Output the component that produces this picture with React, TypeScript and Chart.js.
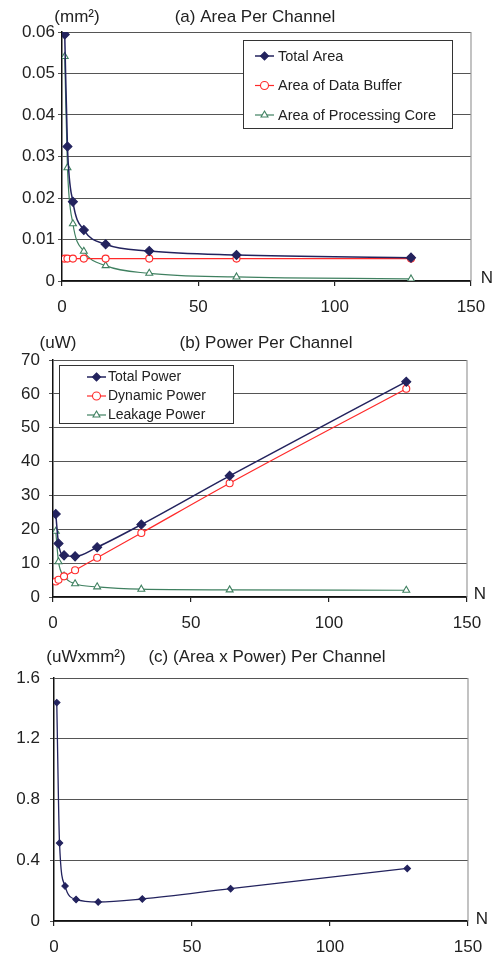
import React, { useEffect, useRef } from 'react';
import { Chart, registerables } from 'chart.js';

Chart.register(...registerables);

const FONT = '"Liberation Sans", Arial, sans-serif';

// ---------- data ----------
const N_VALUES = [1, 2, 4, 8, 16, 32, 64, 128];
const X_TICKS = [0, 50, 100, 150];

const totalArea = [0.0594, 0.0324, 0.0191, 0.0123, 0.00885, 0.00724, 0.00627, 0.00563];
const bufferArea = [0.0054, 0.0054, 0.0054, 0.0054, 0.0054, 0.0054, 0.0054, 0.0054];
const coreArea = [0.0541, 0.0273, 0.0138, 0.00716, 0.0037, 0.00185, 0.00097, 0.0005];
const AREA_TICKS = [0, 0.01, 0.02, 0.03, 0.04, 0.05, 0.06];

const totalPower = [24.5, 15.8, 12.3, 12.0, 14.7, 21.4, 35.8, 63.6];
const dynamicPower = [4.6, 5.1, 6.1, 7.9, 11.6, 18.9, 33.6, 61.5];
const leakagePower = [19.4, 10.4, 6.2, 3.9, 3.0, 2.3, 2.1, 2.0];
const POWER_TICKS = [0, 10, 20, 30, 40, 50, 60, 70];

const areaPower = [1.438, 0.513, 0.23, 0.142, 0.125, 0.145, 0.213, 0.346];
const AP_TICKS = [0, 0.4, 0.8, 1.2, 1.6];

const NAVY = '#23235e';
const RED = '#ff2a2a';
const GREEN = '#3f8060';

const pts = (ys: number[]) => N_VALUES.map((x, i) => ({ x, y: ys[i] }));

function drawMarker(ctx: CanvasRenderingContext2D, style: string, x: number, y: number, r: number, fill: string, stroke: string) {
  ctx.beginPath();
  if (style === 'rectRot') {
    ctx.moveTo(x, y - r);
    ctx.lineTo(x + r, y);
    ctx.lineTo(x, y + r);
    ctx.lineTo(x - r, y);
    ctx.closePath();
  } else if (style === 'triangle') {
    ctx.moveTo(x, y - r);
    ctx.lineTo(x + r * 0.866, y + r * 0.5);
    ctx.lineTo(x - r * 0.866, y + r * 0.5);
    ctx.closePath();
  } else {
    ctx.arc(x, y, r, 0, Math.PI * 2);
  }
  ctx.fillStyle = fill;
  ctx.fill();
  ctx.lineWidth = 1.1;
  ctx.strokeStyle = stroke;
  ctx.stroke();
}

const decorPlugin = {
  id: 'decor',
  beforeDatasetsDraw(chart: any) {
    const { ctx, chartArea: a } = chart;
    ctx.save();
    ctx.strokeStyle = '#9a9a9a';
    ctx.lineWidth = 1.2;
    ctx.beginPath();
    ctx.moveTo(a.right, a.top);
    ctx.lineTo(a.right, a.bottom);
    ctx.stroke();
    ctx.restore();
  },
  afterDraw(chart: any, _a: any, o: any) {
    const { ctx, chartArea: a } = chart;
    ctx.save();
    ctx.fillStyle = '#222';
    ctx.textBaseline = 'middle';
    ctx.textAlign = 'center';
    ctx.font = `17px ${FONT}`;
    ctx.fillText(o.title, o.titleX, o.titleY);
    ctx.fillText(o.unit, o.unitX, o.titleY);
    ctx.fillText('N', a.right + o.nDx, a.bottom + o.nDy);
    const L = o.legend;
    if (L) {
      ctx.fillStyle = '#fff';
      ctx.fillRect(L.x, L.y, L.w, L.h);
      ctx.strokeStyle = '#333';
      ctx.lineWidth = 1;
      ctx.strokeRect(L.x + 0.5, L.y + 0.5, L.w, L.h);
      chart.data.datasets.forEach((ds: any, i: number) => {
        const y = L.y0 + i * L.gap;
        ctx.strokeStyle = ds.borderColor;
        ctx.lineWidth = ds.borderWidth;
        ctx.beginPath();
        ctx.moveTo(L.lx0, y);
        ctx.lineTo(L.lx1, y);
        ctx.stroke();
        drawMarker(ctx, ds.pointStyle, (L.lx0 + L.lx1) / 2, y, L.mr, ds.pointBackgroundColor, ds.pointBorderColor);
        ctx.fillStyle = '#222';
        ctx.textAlign = 'left';
        ctx.font = `${L.size}px ${FONT}`;
        ctx.fillText(ds.label, L.tx, y + 0.5);
      });
    }
    ctx.restore();
  },
};

function xScale(height: number) {
  return {
    type: 'linear',
    min: 0,
    max: 150,
    afterBuildTicks: (s: any) => {
      s.ticks = X_TICKS.map((v) => ({ value: v }));
    },
    afterFit: (s: any) => {
      s.height = height;
      s.paddingLeft = 0;
      s.paddingRight = 0;
    },
    ticks: { color: '#222', font: { family: FONT, size: 17 }, padding: 11, maxRotation: 0, autoSkip: false },
    grid: { drawOnChartArea: false, drawTicks: true, tickLength: 5, color: '#222', lineWidth: 1.2 },
    border: { color: '#111', width: 1.5 },
  };
}

function yScale(width: number, ticks: number[], padding: number) {
  return {
    type: 'linear',
    min: ticks[0],
    max: ticks[ticks.length - 1],
    afterBuildTicks: (s: any) => {
      s.ticks = ticks.map((v) => ({ value: v }));
    },
    afterFit: (s: any) => {
      s.width = width;
      s.paddingTop = 0;
      s.paddingBottom = 0;
    },
    ticks: {
      color: '#222',
      font: { family: FONT, size: 17 },
      padding,
      callback: (v: any) => String(Math.round(Number(v) * 1000) / 1000),
    },
    grid: { color: '#555', lineWidth: 1, tickLength: 4, drawTicks: true },
    border: { color: '#111', width: 1.5 },
  };
}

function lineDs(label: string, data: number[], color: string, style: string, radius: number, filled: boolean, width: number) {
  return {
    label,
    data: pts(data),
    borderColor: color,
    backgroundColor: color,
    borderWidth: width,
    pointStyle: style,
    pointRadius: radius,
    pointBorderWidth: 1.1,
    pointBackgroundColor: filled ? color : '#ffffff',
    pointBorderColor: color,
    cubicInterpolationMode: 'monotone',
    fill: false,
  };
}

function baseOptions(padding: any, xH: number, yW: number, yTicks: number[], yPad: number, decor: any) {
  return {
    responsive: false,
    animation: false,
    events: [],
    layout: { padding },
    plugins: { legend: { display: false }, tooltip: { enabled: false }, title: { display: false }, decor },
    scales: { x: xScale(xH), y: yScale(yW, yTicks, yPad) },
  };
}

function configA(): any {
  return {
    type: 'line',
    data: {
      datasets: [
        lineDs('Total Area', totalArea, NAVY, 'rectRot', 4.5, true, 1.5),
        lineDs('Area of Data Buffer', bufferArea, RED, 'circle', 3.5, false, 1.2),
        lineDs('Area of Processing Core', coreArea, GREEN, 'triangle', 4, false, 1.2),
      ],
    },
    options: baseOptions({ top: 32, right: 22, left: 0, bottom: 0 }, 41, 62, AREA_TICKS, 3, {
      title: '(a) Area Per Channel',
      titleX: 255,
      titleY: 17,
      unit: '(mm\u00B2)',
      unitX: 77,
      nDx: 16,
      nDy: -3,
      legend: { x: 243, y: 40, w: 209, h: 88, y0: 56, gap: 29.5, lx0: 255, lx1: 274, tx: 278, mr: 4, size: 14.5 },
    }),
    plugins: [decorPlugin],
  };
}

function configB(): any {
  return {
    type: 'line',
    data: {
      datasets: [
        lineDs('Total Power', totalPower, NAVY, 'rectRot', 4.5, true, 1.5),
        lineDs('Dynamic Power', dynamicPower, RED, 'circle', 3.5, false, 1.2),
        lineDs('Leakage Power', leakagePower, GREEN, 'triangle', 4, false, 1.2),
      ],
    },
    options: baseOptions({ top: 38, right: 26, left: 0, bottom: 0 }, 41, 53, POWER_TICKS, 9, {
      title: '(b) Power Per Channel',
      titleX: 266,
      titleY: 21,
      unit: '(uW)',
      unitX: 58,
      nDx: 13,
      nDy: -3,
      legend: { x: 59, y: 43, w: 174, h: 58, y0: 55, gap: 19, lx0: 87, lx1: 106, tx: 108, mr: 4, size: 14 },
    }),
    plugins: [decorPlugin],
  };
}

function configC(): any {
  return {
    type: 'line',
    data: {
      datasets: [lineDs('Area x Power', areaPower, NAVY, 'rectRot', 3.2, true, 1.3)],
    },
    options: baseOptions({ top: 40, right: 25, left: 0, bottom: 0 }, 36, 54, AP_TICKS, 10, {
      title: '(c) (Area x Power) Per Channel',
      titleX: 267,
      titleY: 19,
      unit: '(uWxmm\u00B2)',
      unitX: 86,
      nDx: 14,
      nDy: -2,
      legend: null,
    }),
    plugins: [decorPlugin],
  };
}

function Panel({ top, height, build }: { top: number; height: number; build: () => any }) {
  const ref = useRef<HTMLCanvasElement>(null);
  useEffect(() => {
    const chart = new Chart(ref.current as HTMLCanvasElement, build());
    return () => chart.destroy();
  }, []);
  return (
    <canvas
      ref={ref}
      width={493}
      height={height}
      style={{ position: 'absolute', left: 0, top, width: 493, height, display: 'block' }}
    />
  );
}

export default function App() {
  return (
    <div style={{ position: 'absolute', left: 0, top: 0, width: 493, height: 957, background: '#fff', overflow: 'hidden' }}>
      <Panel top={0} height={322} build={configA} />
      <Panel top={322} height={316} build={configB} />
      <Panel top={638} height={319} build={configC} />
    </div>
  );
}
